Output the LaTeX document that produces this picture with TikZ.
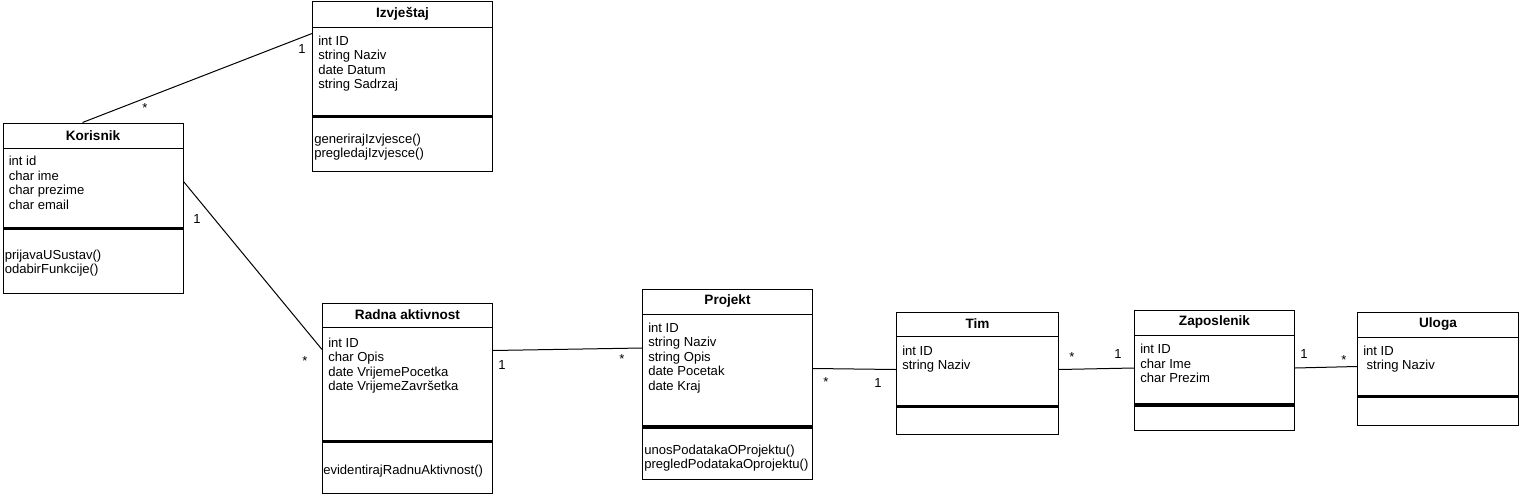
\documentclass[tikz,border=0pt]{standalone}
\usepackage{fontspec}
\setmainfont{Liberation Sans}
\usetikzlibrary{calc, positioning}
\tikzset{
  every node/.style={font=\fontsize{9.8}{10.9}\selectfont},
  classbox/.style={draw, line width=0.75pt, inner sep=0pt, anchor=north west},
  classtitle/.style={font=\fontsize{10.2}{10.9}\selectfont\bfseries},
  members/.style={align=left, inner sep=0pt, anchor=north west},
  bar/.style={line width=2.8pt},
  assoc/.style={line width=0.75pt},
  mult/.style={inner sep=0pt, text height=6.6pt, text depth=0pt},
}

% name, north west corner, width, height, header line, bar, title
\newcommand{\umlclass}[7]{%
  \node[classbox, minimum width={#3*0.75pt}, minimum height={#4*0.75pt}] (#1) at (#2) {};
  \draw[line width=0.75pt] ($(#1.north west)+(0,#5)$) -- ++(#3,0);
  \draw[bar] ($(#1.north west)+(0,#6)$) -- ++(#3,0);
  \node[classtitle] (#1-title) at ($(#1.north)+(0,#5/2)$) {#7};
}

\begin{document}
\begin{tikzpicture}[x=0.75pt, y=-0.75pt]
	\useasboundingbox (0,0) rectangle (1519,493);

	% classes
	\umlclass{izv}{312,0.5}{180}{170}{26.5}{116}{Izvještaj}
	\node[members] (izv-attr) at ($(izv.north west)+(6,35)$) {int ID\\string Naziv\\date Datum\\string Sadrzaj};
	\node[members] (izv-ops) at ($(izv.north west)+(2,133)$) {generirajIzvjesce()\\pregledajIzvjesce()};

	\umlclass{kor}{2.5,122.5}{180}{170}{26}{106}{Korisnik}
	\node[members] (kor-attr) at ($(kor.north west)+(6,33.5)$) {int id\\char ime\\char prezime\\char email};
	\node[members] (kor-ops) at ($(kor.north west)+(2,127)$) {prijavaUSustav()\\odabirFunkcije()};

	\umlclass{rad}{322,302.5}{170}{190}{25}{139}{Radna aktivnost}
	\node[members] (rad-attr) at ($(rad.north west)+(6,35)$) {int ID\\char Opis\\date VrijemePocetka\\date VrijemeZavršetka};
	\node[members] (rad-ops) at ($(rad.north west)+(1,162)$) {evidentirajRadnuAktivnost()};

	\umlclass{pro}{642,288.5}{170}{190}{25.5}{138.5}{Projekt}
	\node[members] (pro-attr) at ($(pro.north west)+(6,34)$) {int ID\\string Naziv\\string Opis\\date Pocetak\\date Kraj};
	\node[members] (pro-ops) at ($(pro.north west)+(2,156)$) {unosPodatakaOProjektu()\\pregledPodatakaOprojektu()};

	\umlclass{tim}{896,311.5}{162}{122}{25}{95}{Tim}
	\node[members] (tim-attr) at ($(tim.north west)+(6,34)$) {int ID\\string Naziv};

	\umlclass{zap}{1134,309.5}{160}{120}{25.5}{95.5}{Zaposlenik}
	\node[members] (zap-attr) at ($(zap.north west)+(6,34.5)$) {int ID\\char Ime\\char Prezim};

	\umlclass{ulo}{1357,311.5}{161}{113}{25.5}{85}{Uloga}
	\node[members] (ulo-attr) at ($(ulo.north west)+(6,34)$) {int ID\\\hspace*{2.5pt}string Naziv};

	% associations
	\draw[assoc] ($(kor.north west)+(80,0)$) -- ($(izv.north west)+(0,33)$);
	\draw[assoc] ($(kor.north east)+(0,59)$) -- ($(rad.north west)+(0,47)$);
	\draw[assoc] ($(rad.north east)+(0,48)$) -- ($(pro.north west)+(0,59.5)$);
	\draw[assoc] ($(pro.north east)+(0,80)$) -- ($(tim.north west)+(0,58)$);
	\draw[assoc] ($(tim.north east)+(0,58)$) -- ($(zap.north west)+(0,58.5)$);
	\draw[assoc] ($(zap.north east)+(0,58.5)$) -- ($(ulo.north west)+(0,55)$);

	% multiplicities
	\node[mult] (m-kor-izv) at (145,108) {*};
	\node[mult] (m-izv-kor) at (302,49) {1};
	\node[mult] (m-kor-rad) at (197,219) {1};
	\node[mult] (m-rad-kor) at (305,361) {*};
	\node[mult] (m-rad-pro) at (502,365) {1};
	\node[mult] (m-pro-rad) at (622,359) {*};
	\node[mult] (m-pro-tim) at (826,382) {*};
	\node[mult] (m-tim-pro) at (878,383) {1};
	\node[mult] (m-tim-zap) at (1072,357) {*};
	\node[mult] (m-zap-tim) at (1118,354) {1};
	\node[mult] (m-zap-ulo) at (1304,354) {1};
	\node[mult] (m-ulo-zap) at (1344,360) {*};

\end{tikzpicture}
\end{document}
